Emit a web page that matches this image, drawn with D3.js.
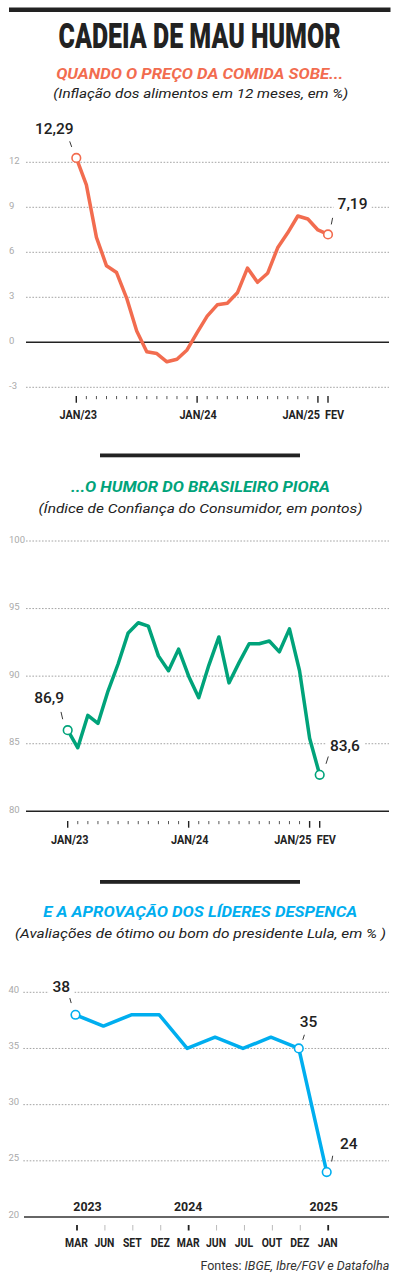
<!DOCTYPE html>
<html><head><meta charset="utf-8">
<script src="https://cdn.jsdelivr.net/npm/d3@7"></script>
<style>
body{margin:0;background:#fff}
svg{display:block}
text{font-family:Roboto,"Noto Sans",sans-serif}
</style>
</head><body>
<svg id="c" width="400" height="1279"></svg>
<script>
// ---------- DATA ----------
const months = ["jan/23","fev/23","mar/23","abr/23","mai/23","jun/23","jul/23","ago/23","set/23","out/23","nov/23","dez/23",
                "jan/24","fev/24","mar/24","abr/24","mai/24","jun/24","jul/24","ago/24","set/24","out/24","nov/24","dez/24",
                "jan/25","fev/25"];
const foodInflation = [12.29,10.5,7.0,5.1,4.65,2.95,0.75,-0.63,-0.75,-1.3,-1.13,-0.51,
                       0.65,1.75,2.5,2.6,3.3,4.95,4.0,4.6,6.3,7.3,8.42,8.22,7.49,7.19];
const consumerConfidence = [86.0,84.7,87.1,86.5,88.9,90.9,93.2,93.95,93.7,91.5,90.4,92.0,
                            90.0,88.4,90.8,92.9,89.5,91.0,92.4,92.4,92.6,91.8,93.5,90.4,85.4,82.7];
const monthAxisIdx = [0,12,24,25];
const monthAxisLabels = ["JAN/23","JAN/24","JAN/25","FEV"];
const inflationTicks = [12,9,6,3,0,-3];
const confidenceTicks = [100,95,90,85,80];
const approvalMonths = ["MAR","JUN","SET","DEZ","MAR","JUN","JUL","OUT","DEZ","JAN"];
const approvalYears = ["2023","","","","2024","","","","","2025"];
const approvalValues = [38,37,38,38,35,36,35,36,35,24];
const approvalTicks = [40,35,30,25,20];
const inflationNotes = [{i:0,t:"12,29"},{i:25,t:"7,19"}];
const confidenceNotes = [{i:0,t:"86,9"},{i:25,t:"83,6"}];
const approvalNotes = [{i:0,t:"38"},{i:8,t:"35"},{i:9,t:"24"}];

// ---------- STYLE ----------
const ORANGE="#F26C4F", GREEN="#00A37A", BLUE="#00AEEF", INK="#222";
const svg = d3.select("#c");

function condense(sel, f){
  sel.each(function(){
    const w=this.getComputedTextLength();
    d3.select(this).attr("textLength",w*f).attr("lengthAdjust","spacingAndGlyphs");
  });
}
function headline(txt, x, y, size, weight, style, fill, width){
  svg.append("text").attr("x",x).attr("y",y).attr("text-anchor","middle")
    .attr("font-size",size).attr("font-weight",weight).attr("font-style",style)
    .attr("fill",fill).attr("textLength",width).attr("lengthAdjust","spacingAndGlyphs").text(txt);
}

// ---------- HEADER ----------
svg.append("rect").attr("x",9).attr("y",7.5).attr("width",381.5).attr("height",4.5).attr("fill",INK);
(function(){
  const g=svg.append("g");
  const t=g.append("text").attr("x",0).attr("y",0).attr("text-anchor","middle")
    .attr("font-size",36).attr("font-weight",900).attr("fill",INK).text("CADEIA DE MAU HUMOR");
  const w=t.node().getComputedTextLength();
  g.attr("transform",`translate(199.5,48.3) scale(${282/w},1)`);
})();
headline("QUANDO O PREÇO DA COMIDA SOBE...",199.7,79,14,700,"italic",ORANGE,287);
headline("(Inflação dos alimentos em 12 meses, em %)",200.8,97.5,13.5,400,"italic",INK,295);

// ---------- helpers ----------
function drawGrid(ticks, y, x0, x1, solid){
  const g=svg.append("g");
  ticks.forEach(v=>{
    const isSolid = v===solid;
    g.append("line").attr("x1",x0).attr("x2",x1).attr("y1",y(v)).attr("y2",y(v))
      .attr("stroke",isSolid?INK:"#9a9a9a").attr("stroke-width",isSolid?1.4:0.9)
      .attr("stroke-dasharray",isSolid?null:"1.6,1.6");
    g.append("text").attr("x",9).attr("y",y(v)+1.5).attr("font-size",9.5).attr("fill","#aaa").text(v);
  });
}
function drawSeries(values, x, y, color, notes, lab){
  const line=d3.line().x((d,i)=>x(i)).y(d=>y(d));
  svg.append("path").datum(values).attr("d",line).attr("fill","none")
    .attr("stroke",color).attr("stroke-width",3.5).attr("stroke-linejoin","round").attr("stroke-linecap","round");
  notes.forEach((n,k)=>{
    const px=x(n.i), py=y(values[n.i]), o=lab[k];
    const g=svg.append("g");
    const bg=g.append("rect").attr("fill","#fff");
    const t=g.append("text").attr("x",px+o.tx).attr("y",py+o.ty).attr("text-anchor",o.anchor)
      .attr("font-size",15.5).attr("font-weight",500).attr("fill",INK).text(n.t);
    const b=t.node().getBBox();
    bg.attr("x",b.x-4).attr("y",b.y-1).attr("width",b.width+8).attr("height",b.height+1);
    g.append("line").attr("x1",px+o.l[0]).attr("y1",py+o.l[1]).attr("x2",px+o.l[2]).attr("y2",py+o.l[3])
      .attr("stroke",INK).attr("stroke-width",0.9);
    g.append("circle").attr("cx",px).attr("cy",py).attr("r",4.3).attr("fill","#fff").attr("stroke",color).attr("stroke-width",1.6);
  });
}
function monthAxis(x, yTop, yLab){
  months.forEach((m,i)=>{
    const major = monthAxisIdx.includes(i);
    svg.append("line").attr("x1",x(i)).attr("x2",x(i)).attr("y1",yTop).attr("y2",yTop+(major?6.7:3.2))
      .attr("stroke",major?INK:"#444").attr("stroke-width",major?1.4:0.9);
  });
  const pos=[{dx:2,a:"middle"},{dx:1,a:"middle"},{dx:2,a:"end"},{dx:-3,a:"start"}];
  monthAxisIdx.forEach((idx,k)=>{
    svg.append("text").attr("x",x(idx)+pos[k].dx).attr("y",yLab).attr("text-anchor",pos[k].a)
      .attr("font-size",12.5).attr("font-weight",700).attr("fill",INK).text(monthAxisLabels[k])
      .call(condense,0.87);
  });
}

// ---------- CHART 1 ----------
const x1 = d3.scaleLinear().domain([0,25]).range([76.3,328]);
const y1 = d3.scaleLinear().domain([-3,12]).range([387.3,162.3]);
drawGrid(inflationTicks,y1,26,389,0);
monthAxis(x1,396,419);
drawSeries(foodInflation,x1,y1,ORANGE,inflationNotes,[
  {tx:-22,ty:-24.3,anchor:"middle",l:[-6.6,-16.6,-4.6,-11]},
  {tx:9.6,ty:-25,anchor:"start",l:[4.6,-16.6,3.3,-10]}
]);

// ---------- CHART 2 ----------
svg.append("rect").attr("x",100).attr("y",453.5).attr("width",200).attr("height",3.8).attr("fill",INK);
headline("...O HUMOR DO BRASILEIRO PIORA",200.5,491.5,14,700,"italic",GREEN,259);
headline("(Índice de Confiança do Consumidor, em pontos)",200.5,512.5,13.5,400,"italic",INK,324);
const x2 = d3.scaleLinear().domain([0,25]).range([67.7,319.7]);
const y2 = d3.scaleLinear().domain([80,100]).range([811.3,541]);
drawGrid(confidenceTicks,y2,26,389,80);
monthAxis(x2,821,844);
drawSeries(consumerConfidence,x2,y2,GREEN,confidenceNotes,[
  {tx:-18.5,ty:-27.3,anchor:"middle",l:[-6.7,-18.3,-5,-11]},
  {tx:10.3,ty:-24.3,anchor:"start",l:[8.6,-18.3,6.3,-11]}
]);

// ---------- CHART 3 ----------
svg.append("rect").attr("x",100).attr("y",880).attr("width",200).attr("height",3.8).attr("fill",INK);
headline("E A APROVAÇÃO DOS LÍDERES DESPENCA",200.3,916.5,14,700,"italic",BLUE,314);
headline("(Avaliações de ótimo ou bom do presidente Lula, em % )",200.5,938,13.5,400,"italic",INK,371);
const x3 = d3.scalePoint().domain(d3.range(approvalValues.length)).range([75.5,326.7]);
const y3 = d3.scaleLinear().domain([20,40]).range([1217,992.3]);
approvalTicks.forEach(v=>{
  const solid=v===20;
  svg.append("line").attr("x1",solid?24:23.3).attr("x2",389).attr("y1",y3(v)).attr("y2",y3(v))
    .attr("stroke",solid?"#333":"#9a9a9a").attr("stroke-width",solid?1.5:0.9)
    .attr("stroke-dasharray",solid?null:"1.6,1.6");
  svg.append("text").attr("x",8.5).attr("y",y3(v)+0.5).attr("font-size",9.5).attr("fill","#aaa").text(v);
});
approvalMonths.forEach((m,i)=>{
  const major = approvalYears[i]!=="";
  svg.append("line").attr("x1",x3(i)+1.5).attr("x2",x3(i)+1.5).attr("y1",1225).attr("y2",1230.5)
    .attr("stroke",major?INK:"#bbb").attr("stroke-width",major?1.8:1);
  svg.append("text").attr("x",x3(i)+1).attr("y",1246.7).attr("text-anchor","middle")
    .attr("font-size",13).attr("font-weight",700).attr("fill",INK).text(m).call(condense,0.8);
});
const yearOff=[12,0,0,0,1,0,0,0,0,-3];
approvalYears.forEach((yv,i)=>{
  if(!yv) return;
  svg.append("text").attr("x",x3(i)+yearOff[i]).attr("y",1211).attr("text-anchor","middle")
    .attr("font-size",13).attr("font-weight",700).attr("fill",INK).text(yv).call(condense,0.95);
});
drawSeries(approvalValues,x3,y3,BLUE,approvalNotes,[
  {tx:-14.2,ty:-22.7,anchor:"middle",l:[-5.7,-16.7,-4.3,-11.7]},
  {tx:9.8,ty:-21,anchor:"middle",l:[5.6,-13.7,4,-8.7]},
  {tx:13.3,ty:-23,anchor:"start",l:[6,-16.3,5,-10.6]}
]);

// ---------- FOOTER ----------
const f=svg.append("text").attr("x",389.3).attr("y",1270).attr("text-anchor","end")
  .attr("font-size",12.5).attr("fill","#333");
f.append("tspan").text("Fontes: ");
f.append("tspan").attr("font-style","italic").text("IBGE, Ibre/FGV e Datafolha");
</script>
</body></html>
